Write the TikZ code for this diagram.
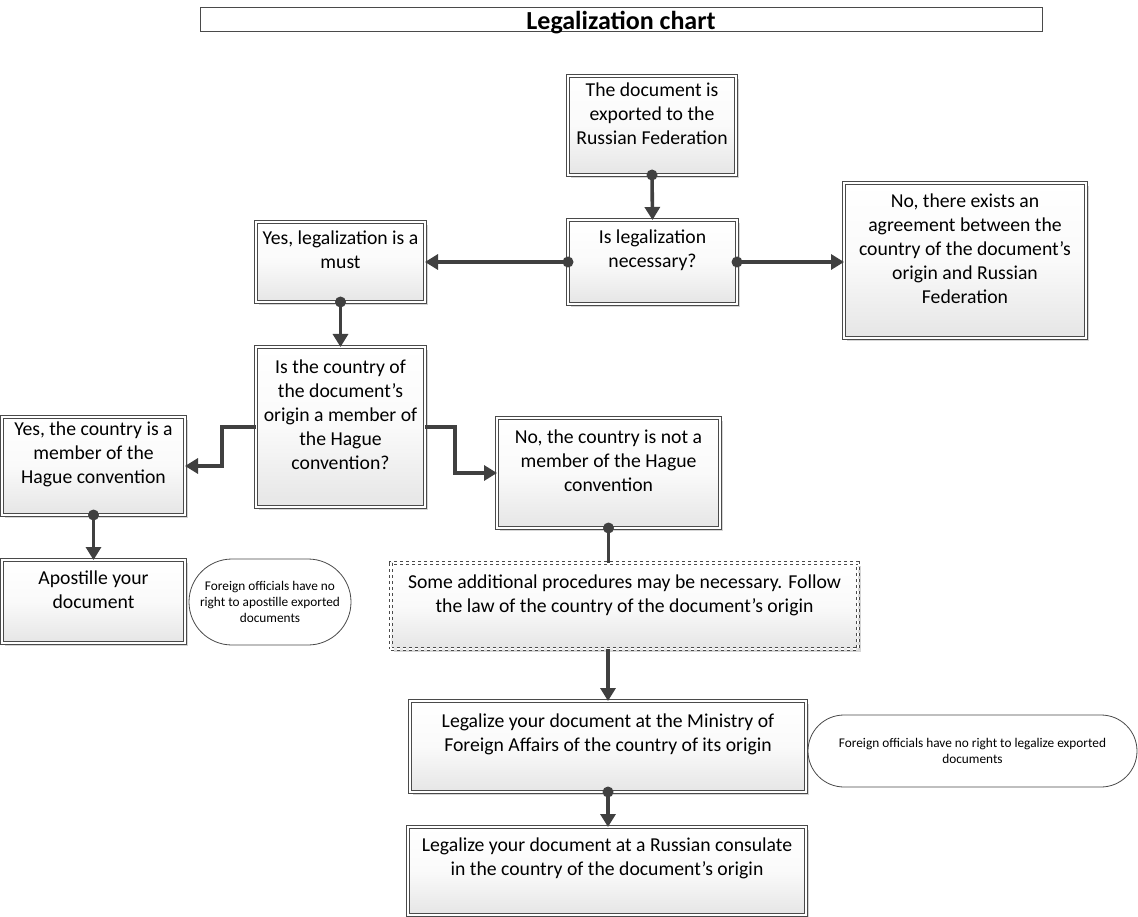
\documentclass[tikz,border=0pt]{standalone}
\usepackage{fontspec}
\setmainfont{Carlito}
\usetikzlibrary{arrows.meta,shadows,calc}
\definecolor{conn}{HTML}{404040}
\definecolor{edgec}{HTML}{4a4a4a}
\tikzset{
  boxbase/.style={draw=edgec, line width=0.8pt, double=white, double distance=1.6pt,
    top color=white, bottom color=black!10, middle color=black!2,
    drop shadow={shadow xshift=3pt, shadow yshift=-3pt, fill=black!20, opacity=0.8},
    inner sep=0pt, outer sep=0pt, anchor=north west},
  dashbox/.style={boxbase, dashed},
  txt/.style={align=center, inner sep=0pt, font=\fontsize{19.7}{24}\selectfont},
  notebox/.style={draw=edgec, line width=0.8pt, fill=white, inner sep=0pt, outer sep=0pt, anchor=north west},
  notetxt/.style={align=center, inner sep=0pt, font=\fontsize{13.3}{16}\selectfont},
  arr/.style={draw=conn, line width=3.6pt, -{Triangle[length=13pt,width=15pt]}},
  plainline/.style={draw=conn, line width=3.6pt},
  dot/.style={fill=conn}
}
\begin{document}
\begin{tikzpicture}[x=1pt,y=-1pt]
\useasboundingbox (0,0) rectangle (1138,917);

% title
\node[draw=edgec, line width=1pt, minimum width=842, minimum height=24, inner sep=0pt, outer sep=0pt, anchor=north west] (title) at (200,8) {};
\node[inner sep=0pt, font=\fontsize{26}{30}\selectfont\bfseries] (titlet) at ($(title.center)+(0,3)$) {Legalization chart};

% boxes
\node[boxbase, minimum width=168, minimum height=99] (b1) at (568,76) {};
\node[txt] (t1) at ($(b1.center)+(0,-12)$) {The document is\\exported to the\\Russian Federation};

\node[boxbase, minimum width=169, minimum height=84] (b2) at (568,220) {};
\node[txt] (t2) at ($(b2.center)+(0,-12)$) {Is legalization\\necessary?};

\node[boxbase, minimum width=242, minimum height=155] (b3) at (844,183) {};
\node[txt] (t3) at ($(b3.center)+(0,-12)$) {No, there exists an\\agreement between the\\country of the document’s\\origin and Russian\\Federation};

\node[boxbase, minimum width=169, minimum height=80] (b4) at (256,222) {};
\node[txt] (t4) at ($(b4.center)+(0,-12)$) {Yes, legalization is a\\must};

\node[boxbase, minimum width=169, minimum height=160] (b5) at (256,347) {};
\node[txt] (t5) at ($(b5.center)+(0,-12)$) {Is the country of\\the document’s\\origin a member of\\the Hague\\convention?};

\node[boxbase, minimum width=183, minimum height=98] (b6) at (2,417) {};
\node[txt] (t6) at ($(b6.center)+(0,-12)$) {Yes, the country is a\\member of the\\Hague convention};

\node[boxbase, minimum width=223, minimum height=110] (b7) at (497,418) {};
\node[txt] (t7) at ($(b7.center)+(0,-12)$) {No, the country is not a\\member of the Hague\\convention};

\node[boxbase, minimum width=183, minimum height=83] (b8) at (2,560) {};
\node[txt] (t8) at ($(b8.center)+(0,-12)$) {Apostille your\\document};

\node[dashbox, minimum width=467, minimum height=86] (b9) at (391,563) {};
\node[txt] (t9) at ($(b9.center)+(0,-11)$) {Some additional procedures may be necessary. Follow\\the law of the country of the document’s origin};

\node[boxbase, minimum width=396, minimum height=91] (b10) at (410,701) {};
\node[txt] (t10) at ($(b10.center)+(0,-12)$) {Legalize your document at the Ministry of\\Foreign Affairs of the country of its origin};

\node[boxbase, minimum width=398, minimum height=88] (b11) at (408,827) {};
\node[txt] (t11) at ($(b11.center)+(0,-13)$) {Legalize your document at a Russian consulate\\in the country of the document’s origin};

% notes
\node[notebox, rounded corners=43, minimum width=162, minimum height=86] (n1) at (189,559) {};
\node[notetxt] (nt1) at (n1.center) {Foreign officials have no\\right to apostille exported\\documents};

\node[notebox, rounded corners=36, minimum width=329, minimum height=72] (n2) at (808,715) {};
\node[notetxt] (nt2) at (n2.center) {Foreign officials have no right to legalize exported\\documents};

% connectors
\draw[arr] (b1.south) -- (b2.north);
\fill[dot] (b1.south) circle (5.5);

\draw[arr] (b2.west) -- (b2.west -| b4.east);
\fill[dot] (b2.west) circle (5.5);

\draw[arr] (b2.east) -- (b2.east -| b3.west);
\fill[dot] (b2.east) circle (5.5);

\draw[arr] (b4.south) -- (b5.north);
\fill[dot] (b4.south) circle (5.5);

\draw[arr] (b5.west) -- ++(-34,0) |- (b6.east);
\draw[arr] (b5.east) -- ++(30,0) |- (b7.west);

\draw[arr] (b6.south) -- (b8.north);
\fill[dot] (b6.south) circle (5.5);

\draw[plainline] (b7.south) -- (b7.south |- b9.north);
\fill[dot] (b7.south) circle (5.5);

\draw[arr] (b9.south -| b10.north) -- (b10.north);

\draw[arr] (b10.south) -- (b10.south |- b11.north);
\fill[dot] (b10.south) circle (5.5);
\end{tikzpicture}
\end{document}
